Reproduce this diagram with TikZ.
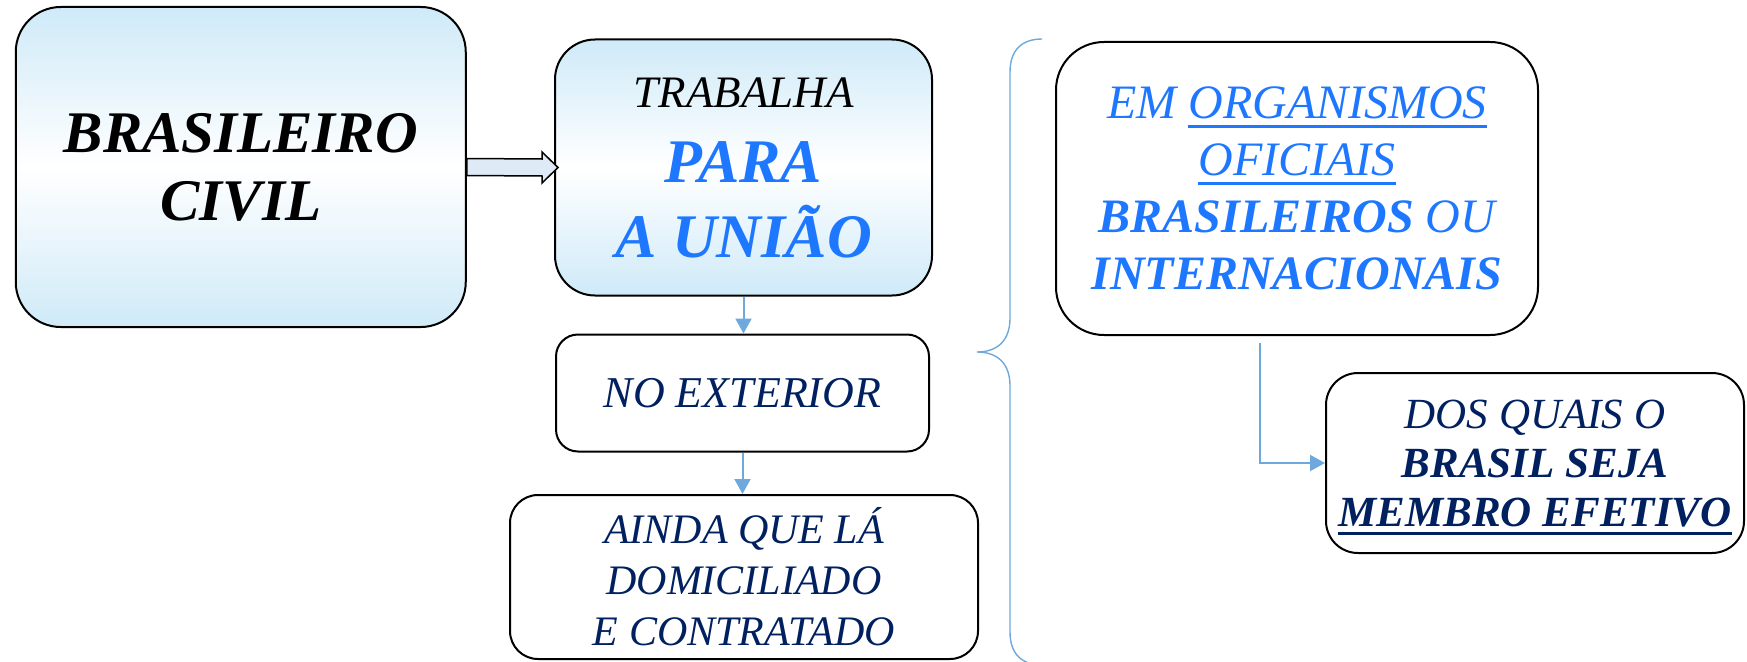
\documentclass[tikz,border=0pt]{standalone}
\usepackage{fontspec}
\setmainfont{Liberation Serif}
\usetikzlibrary{arrows.meta,calc}
\definecolor{ublue}{HTML}{1E78FF}
\definecolor{navy}{HTML}{002060}
\definecolor{conncol}{HTML}{6FA8DC}
\definecolor{boxtop}{HTML}{CFEAF8}
\definecolor{arrfill}{HTML}{DEEBF7}
\newcommand{\myul}[1]{\setbox0=\hbox{#1}\rlap{\rule[-9pt]{\wd0}{3pt}}\box0}
\tikzset{
  gbox/.style={draw=black, line width=2pt, rounded corners=#1, top color=boxtop, bottom color=boxtop, middle color=white, align=center, inner sep=0pt},
  wbox/.style={draw=black, line width=2pt, rounded corners=#1, fill=white, align=center, inner sep=0pt},
  conn/.style={draw=conncol, line width=2pt, -{Triangle[width=16pt,length=15pt]}},
  blockarr/.style={draw=black, line width=1.5pt, fill=arrfill, line join=miter},
  bracestyle/.style={draw=conncol, line width=1.4pt}
}
\begin{document}
\begin{tikzpicture}[x=1pt,y=-1pt]
\useasboundingbox (0,0) rectangle (1747,661);
\node[gbox=45, minimum width=450, minimum height=320, text depth=-6pt, font=\fontsize{59}{68}\selectfont\bfseries\itshape] (b1) at (240.75,167) {BRASILEIRO\\CIVIL};
\node[gbox=40, minimum width=377, minimum height=256, font=\fontsize{62}{75}\selectfont\itshape, text=ublue] (b2) at (743.5,167.5) {{\fontsize{45}{75}\selectfont\color{black}TRABALHA}\\\textbf{PARA}\\\textbf{A UNIÃO}};
\node[wbox=22, minimum width=373, minimum height=117, font=\fontsize{44}{50}\selectfont\itshape, text=navy] (b3) at (742.5,393) {NO EXTERIOR};
\node[wbox=28, minimum width=468, minimum height=164, font=\fontsize{42}{51}\selectfont\itshape, text=navy] (b4) at (744,577) {AINDA QUE LÁ\\DOMICILIADO\\E CONTRATADO};
\node[wbox=48, minimum width=482, minimum height=293, font=\fontsize{48}{57}\selectfont\itshape, text=ublue] (b5) at (1297,188.5) {EM \myul{ORGANISMOS}\\\myul{OFICIAIS}\\\textbf{BRASILEIROS} OU\\\textbf{INTERNACIONAIS}};
\node[wbox=32, minimum width=418, minimum height=180, text depth=-1pt, font=\fontsize{43}{49}\selectfont\itshape, text=navy] (b6) at (1535,463) {DOS QUAIS O\\\textbf{BRASIL SEJA}\\\textbf{\myul{MEMBRO EFETIVO}}};
\draw[conn] (b2.south) -- (b2.south |- b3.north);
\draw[conn] (b3.south) -- (b3.south |- b4.north);
\coordinate (c5) at (1260,343);
\draw[conn] (c5) |- (b6.west);
\draw[blockarr] ([yshift=8.5pt]b1.east) -- ([xshift=-12pt,yshift=8.5pt]b2.west) -- ([xshift=-12pt,yshift=15.5pt]b2.west) -- ([xshift=4pt]b2.west) -- ([xshift=-12pt,yshift=-15.5pt]b2.west) -- ([xshift=-12pt,yshift=-8.5pt]b2.west) -- ([yshift=-8.5pt]b1.east) -- cycle;
\draw[bracestyle] (1042,39) .. controls (1022,39) and (1010,50) .. (1010,72) -- (1010,318) .. controls (1010,340) and (998,352) .. (977,352) .. controls (998,352) and (1010,364) .. (1010,386) -- (1010,632) .. controls (1010,654) and (1022,665) .. (1042,665);
\end{tikzpicture}
\end{document}
